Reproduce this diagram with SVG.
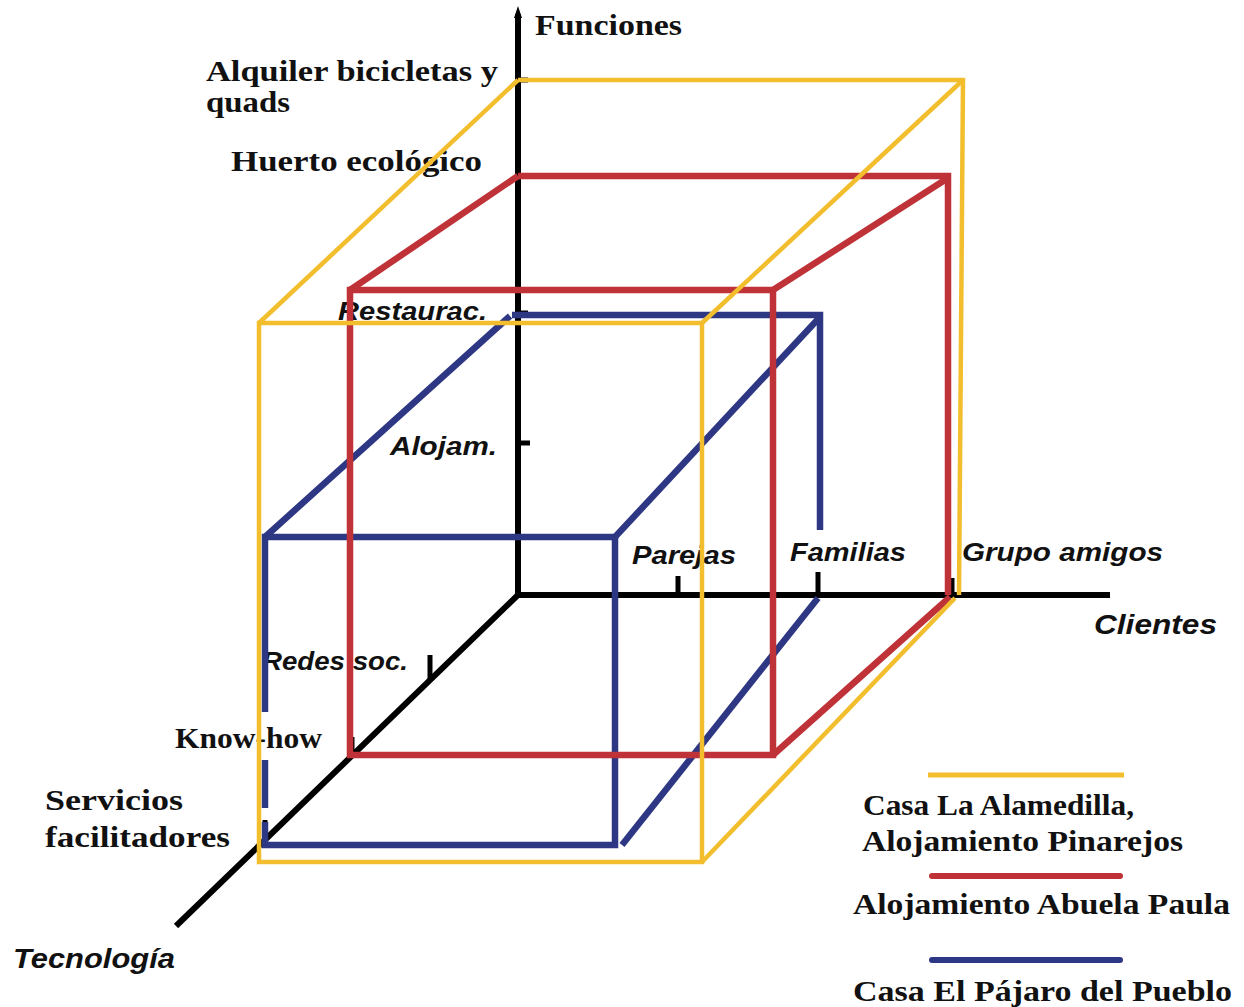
<svg xmlns="http://www.w3.org/2000/svg" width="1244" height="1007" viewBox="0 0 1244 1007">
<style>
.ax{stroke:#000;stroke-width:6;fill:none}
.tk{stroke:#000;stroke-width:5;fill:none}
.y{stroke:#F2BE2E;stroke-width:4.5;fill:none;stroke-linejoin:miter}
.r{stroke:#BF3338;stroke-width:6.5;fill:none;stroke-linejoin:miter}
.b{stroke:#2E3783;stroke-width:6.5;fill:none;stroke-linejoin:miter}
.s{font-family:"Liberation Serif","Times New Roman",serif;font-weight:bold;font-size:29px;fill:#111}
.i{font-family:"Liberation Sans",Arial,sans-serif;font-weight:bold;font-style:italic;font-size:26px;fill:#111}
.big{font-size:28px}
</style>
<rect width="1244" height="1007" fill="#fff"/>
<g id="labels">
<text class="s" x="535" y="35" textLength="147" lengthAdjust="spacingAndGlyphs">Funciones</text>
<text class="s" x="206" y="81" textLength="292" lengthAdjust="spacingAndGlyphs">Alquiler bicicletas y</text>
<text class="s" x="206" y="112" textLength="84" lengthAdjust="spacingAndGlyphs">quads</text>
<text class="s" x="231" y="171" textLength="251" lengthAdjust="spacingAndGlyphs">Huerto ecológico</text>
<text class="i" x="338" y="320" textLength="149" lengthAdjust="spacingAndGlyphs">Restaurac.</text>
<text class="i" x="390" y="455" textLength="107" lengthAdjust="spacingAndGlyphs">Alojam.</text>
<text class="i" x="632" y="564" textLength="104" lengthAdjust="spacingAndGlyphs">Parejas</text>
<text class="i" x="790" y="561" textLength="116" lengthAdjust="spacingAndGlyphs">Familias</text>
<text class="i" x="962" y="561" textLength="201" lengthAdjust="spacingAndGlyphs">Grupo amigos</text>
<text class="i big" x="1094" y="634" textLength="123" lengthAdjust="spacingAndGlyphs">Clientes</text>
<text class="i" x="262" y="670" textLength="146" lengthAdjust="spacingAndGlyphs">Redes soc.</text>
<text class="s" x="175" y="748" textLength="147" lengthAdjust="spacingAndGlyphs">Know-how</text>
<text class="s" x="45" y="810" textLength="138" lengthAdjust="spacingAndGlyphs">Servicios</text>
<text class="s" x="45" y="847" textLength="185" lengthAdjust="spacingAndGlyphs">facilitadores</text>
<text class="i big" x="13" y="968" textLength="162" lengthAdjust="spacingAndGlyphs">Tecnología</text>
</g>
<g id="axes">
<line class="ax" x1="518" y1="14" x2="518" y2="595"/>
<polygon points="518,6 514,18 522,18" fill="#000"/>
<line class="ax" x1="515" y1="595" x2="1110" y2="595"/>
<line class="ax" x1="520" y1="593" x2="176" y2="926"/>
<line class="tk" x1="518" y1="80" x2="528" y2="80"/>
<line class="tk" x1="518" y1="176" x2="528" y2="176"/>
<line class="tk" x1="518" y1="313" x2="528" y2="313"/>
<line class="tk" x1="518" y1="443" x2="530" y2="443"/>
<line class="tk" x1="678" y1="576" x2="678" y2="595"/>
<line class="tk" x1="818" y1="572" x2="818" y2="595"/>
<line class="tk" x1="952" y1="578" x2="952" y2="595"/>
<line class="tk" x1="430" y1="655" x2="430" y2="680"/>
<line class="tk" x1="352" y1="737" x2="352" y2="758"/>
<line class="tk" x1="265" y1="820" x2="265" y2="845"/>
</g>
<g id="cube-pajaro">
<polyline class="b" points="265,712 265,537 615,537 615,845 265,845 265,822"/>
<line class="b" x1="265" y1="760" x2="265" y2="808"/>
<line class="b" x1="265" y1="537" x2="510" y2="316"/>
<polyline class="b" points="512,315 820,315 820,530"/>
<line class="b" x1="615" y1="537" x2="820" y2="317"/>
<line class="b" x1="622" y1="845" x2="818" y2="598"/>
</g>
<g id="cube-abuela">
<rect class="r" x="350" y="290" width="423" height="465"/>
<line class="r" x1="350" y1="290" x2="518" y2="176"/>
<polyline class="r" points="518,176 948,176 948,595"/>
<line class="r" x1="773" y1="290" x2="948" y2="178"/>
<line class="r" x1="773" y1="755" x2="950" y2="597"/>
</g>
<g id="cube-alamedilla">
<rect class="y" x="259" y="323" width="443" height="539"/>
<line class="y" x1="259" y1="323" x2="518" y2="80"/>
<polyline class="y" points="518,80 963,80 959,595"/>
<line class="y" x1="702" y1="323" x2="963" y2="80"/>
<line class="y" x1="702" y1="862" x2="955" y2="598"/>
</g>
<g id="legend">
<line x1="928" y1="775" x2="1124" y2="775" stroke="#F2BE2E" stroke-width="5"/>
<text class="s" x="863" y="815" textLength="271" lengthAdjust="spacingAndGlyphs">Casa La Alamedilla,</text>
<text class="s" x="862" y="851" textLength="321" lengthAdjust="spacingAndGlyphs">Alojamiento Pinarejos</text>
<line x1="932" y1="876" x2="1120" y2="876" stroke="#BF3338" stroke-width="6" stroke-linecap="round"/>
<text class="s" x="853" y="914" textLength="377" lengthAdjust="spacingAndGlyphs">Alojamiento Abuela Paula</text>
<line x1="932" y1="960" x2="1120" y2="960" stroke="#2E3783" stroke-width="6" stroke-linecap="round"/>
<text class="s" x="853" y="1001" textLength="379" lengthAdjust="spacingAndGlyphs">Casa El Pájaro del Pueblo</text>
</g>
</svg>
